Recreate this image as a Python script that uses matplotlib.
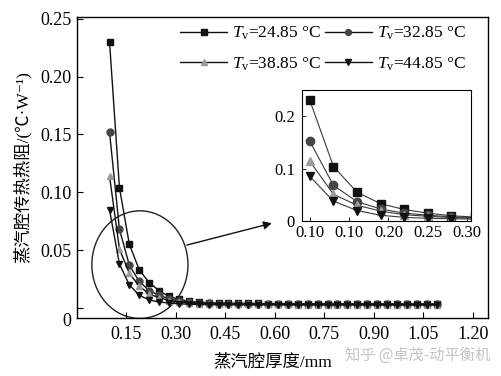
import matplotlib
matplotlib.use("Agg")
import matplotlib.pyplot as plt
from matplotlib.patches import Ellipse

plt.rcParams["font.family"] = ["Liberation Serif", "Noto Sans CJK SC", "DejaVu Sans"]
plt.rcParams["mathtext.fontset"] = "custom"
plt.rcParams["mathtext.rm"] = "Liberation Serif"
plt.rcParams["mathtext.it"] = "Liberation Serif:italic"

# vapour chamber thickness (mm)
thickness = [0.10, 0.13, 0.16, 0.19, 0.22, 0.25, 0.28, 0.31, 0.34, 0.37, 0.40, 0.43,
             0.46, 0.49, 0.52, 0.55, 0.58, 0.61, 0.64, 0.67, 0.70, 0.73, 0.76, 0.79,
             0.82, 0.85, 0.88, 0.91, 0.94, 0.97, 1.00, 1.03, 1.06, 1.09]

r_2485 = [0.230, 0.104, 0.055, 0.033, 0.022, 0.015, 0.010, 0.0075, 0.0058, 0.0050,
          0.0046, 0.0043, 0.0042, 0.0041, 0.0040, 0.0040, 0.0039, 0.0039, 0.0039, 0.0038,
          0.0038, 0.0038, 0.0038, 0.0037, 0.0037, 0.0037, 0.0037, 0.0037, 0.0036, 0.0036,
          0.0036, 0.0036, 0.0036, 0.0036]
r_3285 = [0.152, 0.068, 0.037, 0.023, 0.015, 0.011, 0.008, 0.0062, 0.0050, 0.0043,
          0.0040, 0.0038, 0.0037, 0.0036, 0.0036, 0.0035, 0.0035, 0.0035, 0.0034, 0.0034,
          0.0034, 0.0034, 0.0034, 0.0033, 0.0033, 0.0033, 0.0033, 0.0033, 0.0033, 0.0033,
          0.0033, 0.0032, 0.0032, 0.0032]
r_3885 = [0.114, 0.051, 0.030, 0.019, 0.012, 0.009, 0.0065, 0.0052, 0.0044, 0.0039,
          0.0036, 0.0034, 0.0033, 0.0032, 0.0032, 0.0031, 0.0031, 0.0031, 0.0031, 0.0030,
          0.0030, 0.0030, 0.0030, 0.0030, 0.0030, 0.0030, 0.0030, 0.0029, 0.0029, 0.0029,
          0.0029, 0.0029, 0.0029, 0.0029]
r_4485 = [0.085, 0.038, 0.020, 0.011, 0.0070, 0.0052, 0.0043, 0.0037, 0.0033, 0.0031,
          0.0030, 0.0029, 0.0029, 0.0028, 0.0028, 0.0028, 0.0028, 0.0027, 0.0027, 0.0027,
          0.0027, 0.0027, 0.0027, 0.0027, 0.0027, 0.0027, 0.0026, 0.0026, 0.0026, 0.0026,
          0.0026, 0.0026, 0.0026, 0.0026]

series = [
    (r_2485, r"$T_\mathrm{v}$=24.85 °C", "s", "#111111"),
    (r_3285, r"$T_\mathrm{v}$=32.85 °C", "o", "#454545"),
    (r_3885, r"$T_\mathrm{v}$=38.85 °C", "^", "#9a9a9a"),
    (r_4485, r"$T_\mathrm{v}$=44.85 °C", "v", "#111111"),
]

x_ticks = [0.15, 0.30, 0.45, 0.60, 0.75, 0.90, 1.05, 1.20]
y_ticks = [0, 0.05, 0.10, 0.15, 0.20, 0.25]
y_tick_labels = ["\n0", "0.05", "0.10", "0.15", "0.20", "0.25"]
inset_x_ticks = [0.10, 0.15, 0.20, 0.25, 0.30]
inset_x_labels = ["0.10", "0.10", "0.20", "0.25", "0.30"]
inset_y_ticks = [0, 0.1, 0.2]
inset_y_labels = ["0", "0.1", "0.2"]

fig = plt.figure(figsize=(5.02, 3.76), dpi=100)
ax = fig.add_axes([0.1524, 0.1543, 0.8191, 0.8005])

lines = []
for vals, label, marker, color in series:
    ln, = ax.plot(thickness, vals, color="#111111", lw=1.0, marker=marker, ms=5,
                  mfc=color, mec=color, label=label)
    lines.append(ln)

ax.set_xlim(0, 1.245)
ax.set_ylim(-0.0086, 0.2515)
ax.set_xticks(x_ticks)
ax.set_xticklabels([f"{v:.2f}" for v in x_ticks])
ax.set_yticks(y_ticks)
ax.set_yticklabels(y_tick_labels)
ax.tick_params(direction="in", length=4, labelsize=13, width=0.8)
ax.tick_params(axis="x", pad=6)
for s in ax.spines.values():
    s.set_linewidth(1.0)
ax.set_xlabel("蒸汽腔厚度/mm", fontsize=12.5)
ax.xaxis.set_label_coords(0.478, -0.118)
ax.set_ylabel("蒸汽腔传热热阻/(℃·W⁻¹)", fontsize=12.5, labelpad=6)

# row-wise legend order: 24.85, 32.85 / 38.85, 44.85
order = [0, 2, 1, 3]
ax.legend([lines[i] for i in order], [series[i][1] for i in order],
          loc="upper right", bbox_to_anchor=(0.985, 1.025), ncol=2, frameon=False,
          fontsize=12.5, handlelength=2.7, handletextpad=0.3, columnspacing=0.2,
          labelspacing=0.75, markerscale=0.85)

# zoom circle and arrow
ax.add_patch(Ellipse((0.192, 0.0375), 0.291, 0.093, fill=False, ec="#222222", lw=1.0))
ax.annotate("", xy=(0.5915, 0.0733), xytext=(0.334, 0.0544),
            arrowprops=dict(arrowstyle="-|>", color="#111111", lw=1.0,
                            mutation_scale=12, shrinkA=0, shrinkB=0))

# inset
axi = fig.add_axes([0.6016, 0.4122, 0.3367, 0.3484])
for vals, label, marker, color in series:
    axi.plot(thickness, vals, color="#3a3a3a", lw=0.8, marker=marker, ms=6,
             mfc=color, mec=color)
axi.set_xlim(0.09, 0.305)
axi.set_ylim(0, 0.25)
axi.set_xticks(inset_x_ticks)
axi.set_xticklabels(inset_x_labels)
axi.set_yticks(inset_y_ticks)
axi.set_yticklabels(inset_y_labels)
axi.tick_params(direction="in", length=3, labelsize=12, width=0.6)
axi.tick_params(axis="x", pad=3)
axi.tick_params(axis="y", pad=5)
for s in axi.spines.values():
    s.set_linewidth(0.8)

fig.text(0.976, 0.055, "知乎 @卓茂-动平衡机", ha="right", va="center", fontsize=11,
         color="#c4c4c4", family=["Noto Sans CJK SC", "DejaVu Sans"])

fig.savefig("out.png", dpi=100)
